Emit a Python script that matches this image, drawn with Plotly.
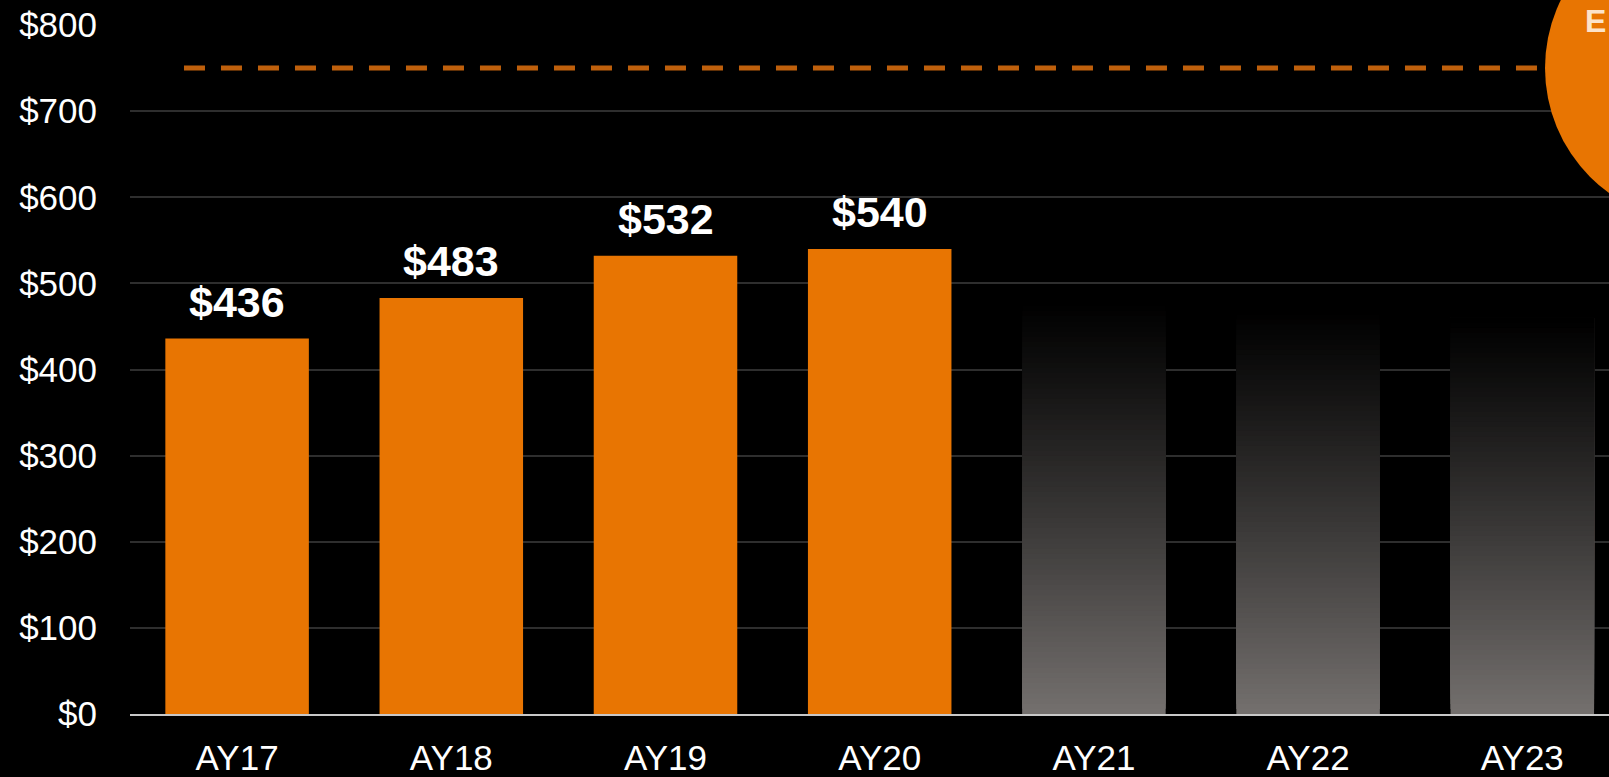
import plotly.graph_objects as go

# ---- data ----
categories = ["AY17", "AY18", "AY19", "AY20", "AY21", "AY22", "AY23"]
actual_cats = ["AY17", "AY18", "AY19", "AY20"]
actual_vals = [436, 483, 532, 540]
future_cats = ["AY21", "AY22", "AY23"]
future_vals = [480, 470, 460]
target_value = 750
y_ticks = [0, 100, 200, 300, 400, 500, 600, 700, 800]
corner_label = "E"

# ---- style ----
ORANGE = "#E87502"
DASH_ORANGE = "#BF600C"
BG = "#000000"
FONT = "Liberation Sans, Arial, sans-serif"
W, H = 1609, 777
ML, MR, MT, MB = 130, 0, 25, 63
N_SEG = 80
BASE_RGB = (116, 112, 110)

fig = go.Figure()

fig.add_trace(go.Bar(
    x=actual_cats, y=actual_vals, marker=dict(color=ORANGE, line=dict(width=0)),
    width=0.67, showlegend=False, hoverinfo="x+y",
))

# gradient bars: each layer runs from its own base up to the bar's value,
# later (darker) layers drawn over earlier ones so no seams appear
for k in range(N_SEG):
    f = (k + 0.5) / N_SEG
    c = tuple(int(round(v * (1 - f) ** 1.1)) for v in BASE_RGB)
    fig.add_trace(go.Bar(
        x=future_cats,
        y=[v * (1 - k / N_SEG) for v in future_vals],
        base=[v * k / N_SEG for v in future_vals],
        marker=dict(color=f"rgb{c}", line=dict(width=0)),
        width=0.67, showlegend=False, hoverinfo="skip",
    ))

for c, v in zip(actual_cats, actual_vals):
    fig.add_annotation(
        x=c, y=v, text=f"<b>${v}</b>", showarrow=False, yanchor="bottom",
        yshift=11, font=dict(family=FONT, size=43, color="white"),
    )

x_right = -0.5 + (W - ML - MR) / 214.2

fig.add_shape(
    type="line", xref="x", yref="y", x0=-0.248, x1=6.3, y0=target_value, y1=target_value,
    line=dict(color=DASH_ORANGE, width=5, dash="21px,16px"), layer="above",
)

pw, ph = W - ML - MR, H - MT - MB
def px_x(p):
    return (p - ML) / pw
def px_y(p):
    return (H - MB - p) / ph

fig.add_shape(
    type="circle", xref="paper", yref="paper",
    x0=px_x(1545), x1=px_x(1853), y0=px_y(222), y1=px_y(-86),
    fillcolor=ORANGE, line=dict(width=0), layer="above",
)
fig.add_annotation(
    xref="paper", yref="paper", x=px_x(1583), y=px_y(21), xanchor="left", yanchor="middle",
    text=f"<b>{corner_label}</b>", showarrow=False,
    font=dict(family=FONT, size=32, color="#FCE3C9"),
)

fig.update_layout(
    width=W, height=H, autosize=False,
    margin=dict(l=ML, r=MR, t=MT, b=MB, pad=0),
    paper_bgcolor=BG, plot_bgcolor=BG,
    barmode="overlay", bargap=0.33,
    font=dict(family=FONT, color="white", size=35),
    xaxis=dict(
        type="category", categoryorder="array", categoryarray=categories,
        range=[-0.5, x_right], showgrid=False, zeroline=False,
        showline=True, linecolor="#C8C8C8", linewidth=2,
        ticks="", tickfont=dict(size=35, color="white", family=FONT),
        ticklabelstandoff=12,
    ),
    yaxis=dict(
        range=[0, 800], tickvals=y_ticks, ticktext=[f"${t}" for t in y_ticks],
        showgrid=True, gridcolor="#2E2E2E", gridwidth=2, zeroline=False,
        showline=False, ticks="", tickfont=dict(size=35, color="white", family=FONT),
        ticklabelstandoff=32,
    ),
)

fig.write_html(
    "out.html",
    config={"displayModeBar": False},
    post_script="document.body.style.margin='0';document.body.style.overflow='hidden';document.body.style.background='#000';",
)
